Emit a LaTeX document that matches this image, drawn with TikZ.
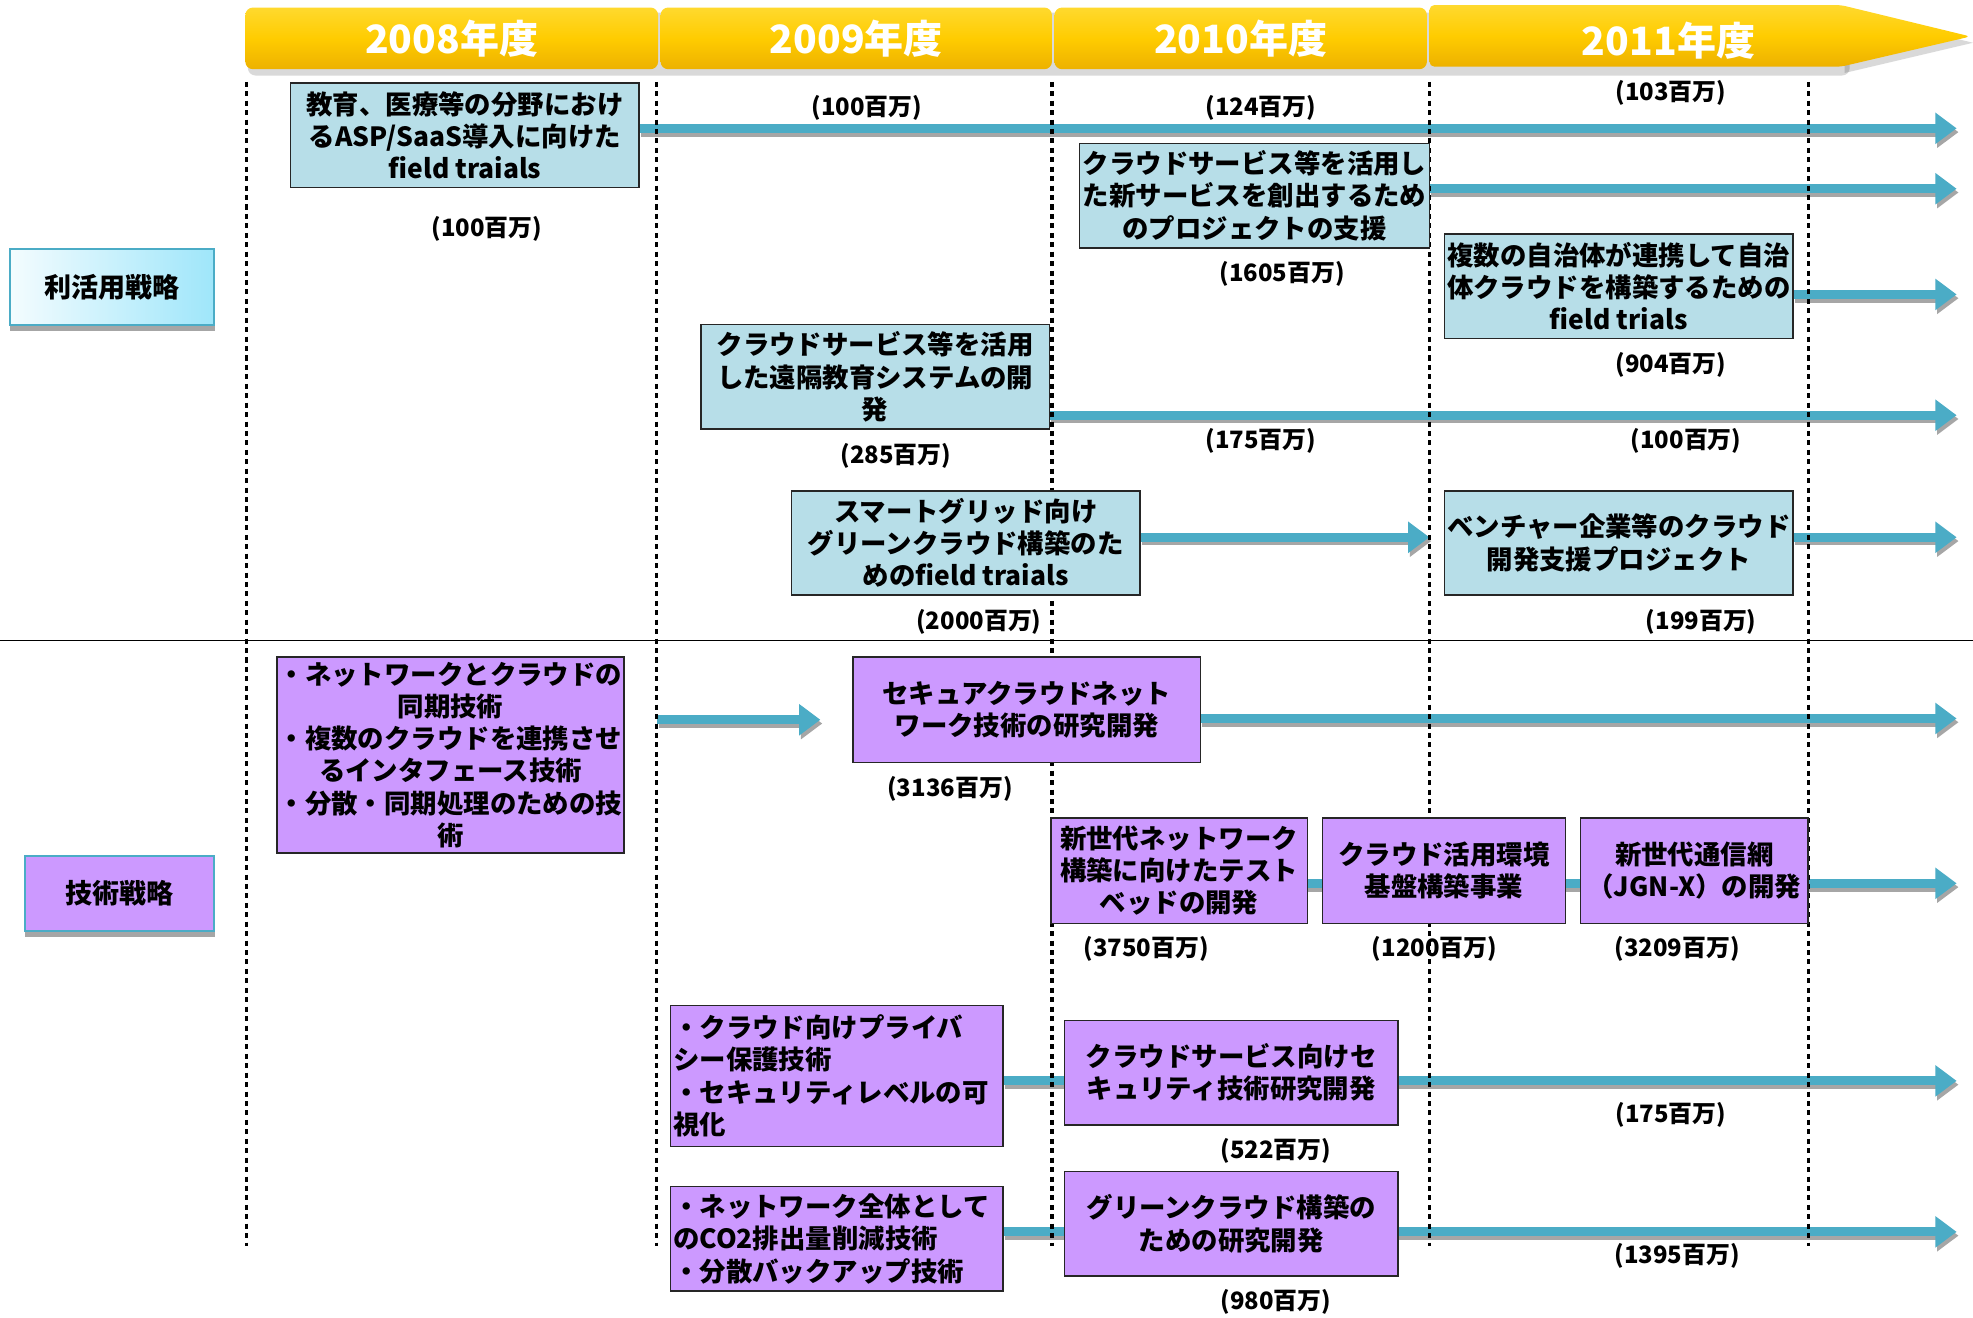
\documentclass[tikz,border=0pt]{standalone}
\usepackage{fontspec}
\setmainfont{Noto Sans CJK JP}
\usetikzlibrary{arrows.meta}
\definecolor{boxblue}{HTML}{B7DEE8}
\definecolor{boxpurple}{HTML}{CC99FF}
\definecolor{flowteal}{HTML}{4BACC6}
\definecolor{flowshade}{HTML}{A6A6A6}
\definecolor{goldtop}{HTML}{FFD92E}
\definecolor{goldmid}{HTML}{FFCC00}
\definecolor{goldbot}{HTML}{EDB100}
\definecolor{lblcyan}{HTML}{9FE6FA}
\definecolor{lblline}{HTML}{4BACC6}
\definecolor{boxline}{HTML}{262626}
\newcommand\boxfont{\fontsize{21}{25.6}\selectfont\bfseries}
\newcommand\amtfont{\fontsize{19}{22}\selectfont\bfseries}
\newcommand\yrfont{\fontsize{31}{34}\selectfont\bfseries}
\newcommand\catfont{\fontsize{21.5}{24}\selectfont\bfseries}
\pgfdeclarelayer{backdrop}
\pgfdeclarelayer{flows}
\pgfdeclarelayer{dots}
\pgfsetlayers{backdrop,flows,dots,main}
\newcommand\flowarrow[2]{%
  \draw[flowshadow] ([shift={(1.5,3)}]#1) -- ([shift={(1.5,3)}]#2);
  \draw[flow] (#1) -- (#2);}
\begin{document}
\begin{tikzpicture}[x=1pt,y=-1pt,
  bluebox/.style={draw=boxline, line width=1.3pt, fill=boxblue, inner sep=1pt, align=center, font=\boxfont},
  purplebox/.style={draw=boxline, line width=1.3pt, fill=boxpurple, inner sep=1pt, align=center, font=\boxfont},
  leftbox/.style={draw=boxline, line width=1.3pt, fill=boxpurple, inner sep=2pt, align=left, text width=260pt, font=\boxfont},
  amt/.style={font=\amtfont, inner sep=0pt},
  flow/.style={draw=flowteal, line width=7pt, -{Triangle[length=17pt,width=24pt]}},
  flowshadow/.style={draw=flowshade, line width=7pt, -{Triangle[length=17pt,width=24pt]}},
  yeardiv/.style={black, line width=2.6pt, dash pattern=on 4pt off 3.5pt},
  yearseg/.style={rounded corners=6pt, top color=goldtop, bottom color=goldbot, middle color=goldmid, minimum height=49pt, text=white, font=\yrfont, inner sep=0pt},
  yeartext/.style={text=white, font=\yrfont, inner sep=0pt},
  catbox/.style={draw=lblline, line width=1.5pt, inner sep=0pt, font=\catfont}
]
\begin{pgfonlayer}{backdrop}
\fill[white] (0,0) rectangle (1568,1047);
\fill[black, opacity=0.15, rounded corners=6pt] (197,10) rectangle (1470,60);
\fill[black, opacity=0.15] (1466,9) -- (1568,34) -- (1466,58) -- cycle;
\fill[flowshade] (8,256) rectangle (171,263);
\fill[flowshade] (20,738) rectangle (171,745);
\end{pgfonlayer}
\useasboundingbox (0,0) rectangle (1568,1047);

% header
\node[yearseg, minimum width=328pt] (h08) at (359,30.5) {\raisebox{-2pt}{2008年度}};
\node[yearseg, minimum width=311pt] (h09) at (680.5,30.5) {\raisebox{-2pt}{2009年度}};
\node[yearseg, minimum width=296pt] (h10) at (986,30.5) {\raisebox{-2pt}{2010年度}};
\path[top color=goldtop, bottom color=goldbot, middle color=goldmid, rounded corners=4pt]
  (1136,4) -- (1463,4) -- (1566,29) -- (1463,53) -- (1136,53) -- cycle;
\node[yeartext] (h11) at (1326,32) {2011年度};

% separator
\draw[line width=1.5pt] (0,509) -- (1568,509);

% category labels
\node[catbox, left color=lblcyan!12, right color=lblcyan, minimum width=162pt, minimum height=60pt] (cat1) at (89,228) {利活用戦略};
\node[catbox, fill=boxpurple, minimum width=150pt, minimum height=60pt] (cat2) at (95,710) {技術戦略};

% blue boxes
\node[bluebox, minimum width=277pt, minimum height=83pt] (b1) at (369.5,107.5) {教育、医療等の分野におけ\\るASP/SaaS導入に向けた\\field traials};
\node[bluebox, minimum width=278pt, minimum height=83pt] (b2) at (997,155.5) {クラウドサービス等を活用し\\た新サービスを創出するため\\のプロジェクトの支援};
\node[bluebox, minimum width=277pt, minimum height=83pt] (b3) at (1286.5,227.5) {複数の自治体が連携して自治\\体クラウドを構築するための\\field trials};
\node[bluebox, minimum width=277pt, minimum height=83pt] (b4) at (695.5,299.5) {クラウドサービス等を活用\\した遠隔教育システムの開\\発};
\node[bluebox, minimum width=277pt, minimum height=83pt] (b5) at (767.5,431.5) {スマートグリッド向け\\グリーンクラウド構築のた\\めのfield traials};
\node[bluebox, minimum width=277pt, minimum height=83pt] (b6) at (1286.5,431.5) {ベンチャー企業等のクラウド\\開発支援プロジェクト};

% purple boxes
\node[purplebox, minimum width=276pt, minimum height=156pt] (p7) at (358,600) {・ネットワークとクラウドの\\同期技術\\・複数のクラウドを連携させ\\るインタフェース技術\\・分散・同期処理のための技\\術};
\node[purplebox, minimum width=276pt, minimum height=84pt] (p8) at (816,564) {セキュアクラウドネット\\ワーク技術の研究開発};
\node[purplebox, minimum width=204pt, minimum height=84pt] (p9) at (937,692) {新世代ネットワーク\\構築に向けたテスト\\ベッドの開発};
\node[purplebox, minimum width=193pt, minimum height=84pt] (p10) at (1147.5,692) {クラウド活用環境\\基盤構築事業};
\node[purplebox, minimum width=181pt, minimum height=84pt] (p11) at (1346.5,692) {新世代通信網\\（JGN-X）の開発};
\node[leftbox, minimum height=112pt] (p12) at (665,855) {・クラウド向けプライバ\\シー保護技術\\・セキュリティレベルの可\\視化};
\node[purplebox, minimum width=265pt, minimum height=83pt] (p13) at (978.5,852.5) {クラウドサービス向けセ\\キュリティ技術研究開発};
\node[leftbox, minimum height=83pt] (p14) at (665,984.5) {・ネットワーク全体として\\のCO2排出量削減技術\\・分散バックアップ技術};
\node[purplebox, minimum width=265pt, minimum height=83pt] (p15) at (978.5,972.5) {グリーンクラウド構築の\\ための研究開発};

% amounts
\node[amt] (m1) at (387,182) {(100百万)};
\node[amt] (m1a) at (689,86) {(100百万)};
\node[amt] (m1b) at (1002,86) {(124百万)};
\node[amt] (m1c) at (1328,74) {(103百万)};
\node[amt] (m2) at (1019,218) {(1605百万)};
\node[amt] (m3) at (1328,290) {(904百万)};
\node[amt] (m4) at (712,362) {(285百万)};
\node[amt] (m4a) at (1002,350) {(175百万)};
\node[amt] (m4b) at (1340,350) {(100百万)};
\node[amt] (m5) at (778,494) {(2000百万)};
\node[amt] (m6) at (1352,494) {(199百万)};
\node[amt] (m8) at (755,627) {(3136百万)};
\node[amt] (m9) at (911,754) {(3750百万)};
\node[amt] (m10) at (1140,754) {(1200百万)};
\node[amt] (m11) at (1333,754) {(3209百万)};
\node[amt] (m13) at (1014,915) {(522百万)};
\node[amt] (m13a) at (1328,886) {(175百万)};
\node[amt] (m15) at (1014,1035) {(980百万)};
\node[amt] (m15a) at (1333,998) {(1395百万)};

% arrow coordinates
\coordinate (s1) at (508,102);   \coordinate (e1) at (1555,102);
\coordinate (s2) at (1136,150);  \coordinate (e2) at (1555,150);
\coordinate (s3) at (1425,234);  \coordinate (e3) at (1555,234);
\coordinate (s4) at (834,330);   \coordinate (e4) at (1555,330);
\coordinate (s5) at (906,427);   \coordinate (e5) at (1136,427);
\coordinate (s6) at (1425,427);  \coordinate (e6) at (1555,427);
\coordinate (s7) at (522,572);   \coordinate (e7) at (652,572);
\coordinate (s8) at (954,571);   \coordinate (e8) at (1555,571);
\coordinate (s9) at (840,702);   \coordinate (e9) at (1555,702);
\coordinate (s12) at (797,859);  \coordinate (e12) at (1555,859);
\coordinate (s14) at (797,979);  \coordinate (e14) at (1555,979);

\begin{pgfonlayer}{flows}
\flowarrow{s1}{e1}
\flowarrow{s2}{e2}
\flowarrow{s3}{e3}
\flowarrow{s4}{e4}
\flowarrow{s5}{e5}
\flowarrow{s6}{e6}
\flowarrow{s7}{e7}
\flowarrow{s8}{e8}
\flowarrow{s9}{e9}
\flowarrow{s12}{e12}
\flowarrow{s14}{e14}
\end{pgfonlayer}

\begin{pgfonlayer}{dots}
\foreach \xx in {196,522,836,1136,1437}
  \draw[yeardiv] (\xx,65) -- (\xx,990);
\end{pgfonlayer}
\end{tikzpicture}
\end{document}
